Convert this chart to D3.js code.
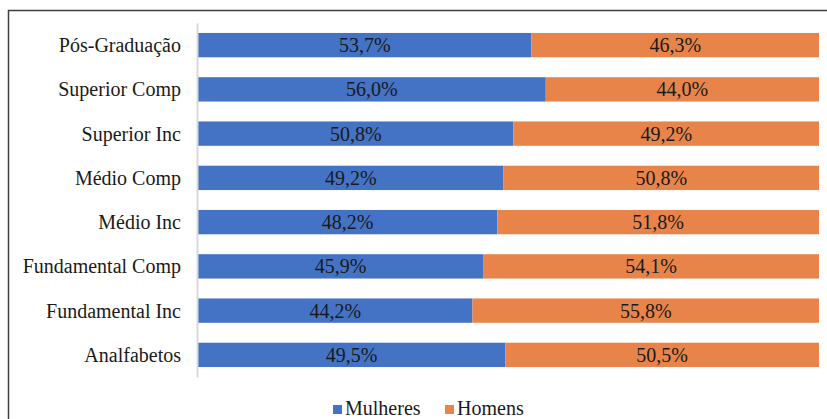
<!DOCTYPE html>
<html><head><meta charset="utf-8">
<script src="https://cdn.jsdelivr.net/npm/d3@7"></script>
<style>body{margin:0;background:#fff}svg{display:block}</style>
</head><body>
<svg id="c" width="827" height="419"></svg>
<script>
const categories = ["Pós-Graduação","Superior Comp","Superior Inc","Médio Comp","Médio Inc","Fundamental Comp","Fundamental Inc","Analfabetos"];
const mulheres = [53.7,56.0,50.8,49.2,48.2,45.9,44.2,49.5];
const homens = [46.3,44.0,49.2,50.8,51.8,54.1,55.8,50.5];
const seriesNames = ["Mulheres","Homens"];
const colors = ["#4472C4","#E8844A"];

const FONT = '"Liberation Serif"';
const svg = d3.select("#c");

svg.append("path").attr("d","M8.5,419 L8.5,10.5 L827,10.5").attr("fill","none").attr("stroke","#404040").attr("stroke-width",1.5);

const x = d3.scaleLinear().domain([0,100]).range([198,819]);
const y = d3.scaleBand().domain(categories).range([23,377]).paddingInner(0.45).paddingOuter(0.225);

const rows = categories.map((c,i)=>({c, m:mulheres[i], h:homens[i]}));
const fmt = v => v.toFixed(1).replace(".",",")+"%";

const g = svg.append("g");
g.selectAll("rect.m").data(rows).join("rect").attr("class","m")
  .attr("x",x(0)).attr("y",d=>y(d.c)).attr("width",d=>x(d.m)-x(0)).attr("height",y.bandwidth())
  .attr("fill",colors[0]);
g.selectAll("rect.h").data(rows).join("rect").attr("class","h")
  .attr("x",d=>x(d.m)).attr("y",d=>y(d.c)).attr("width",d=>x(d.m+d.h)-x(d.m)).attr("height",y.bandwidth())
  .attr("fill",colors[1]);

g.selectAll("text.lm").data(rows).join("text")
  .attr("x",d=>(x(0)+x(d.m))/2).attr("y",d=>y(d.c)+y.bandwidth()/2+7)
  .attr("text-anchor","middle").style("font-family",FONT).style("font-size","20px").attr("fill","#1a1a1a")
  .text(d=>fmt(d.m));
g.selectAll("text.lh").data(rows).join("text")
  .attr("x",d=>(x(d.m)+x(d.m+d.h))/2).attr("y",d=>y(d.c)+y.bandwidth()/2+7)
  .attr("text-anchor","middle").style("font-family",FONT).style("font-size","20px").attr("fill","#1a1a1a")
  .text(d=>fmt(d.h));

const ax = svg.append("g").attr("transform","translate(197,0)").call(d3.axisLeft(y).tickSize(0).tickPadding(16));
ax.select(".domain").attr("stroke","#d9d9d9").attr("stroke-width",2);
ax.selectAll("text").attr("dy",null).attr("y",7).style("font-family",FONT).style("font-size","20px").attr("fill","#1a1a1a");

const leg = svg.append("g");
const lx = [333,445];
seriesNames.forEach((n,i)=>{
  leg.append("rect").attr("x",lx[i]).attr("y",405).attr("width",9).attr("height",9).attr("fill",colors[i]);
  leg.append("text").attr("x",lx[i]+12).attr("y",414.5).style("font-family",FONT).style("font-size","20px").attr("fill","#1a1a1a").text(n);
});
</script>
</body></html>
